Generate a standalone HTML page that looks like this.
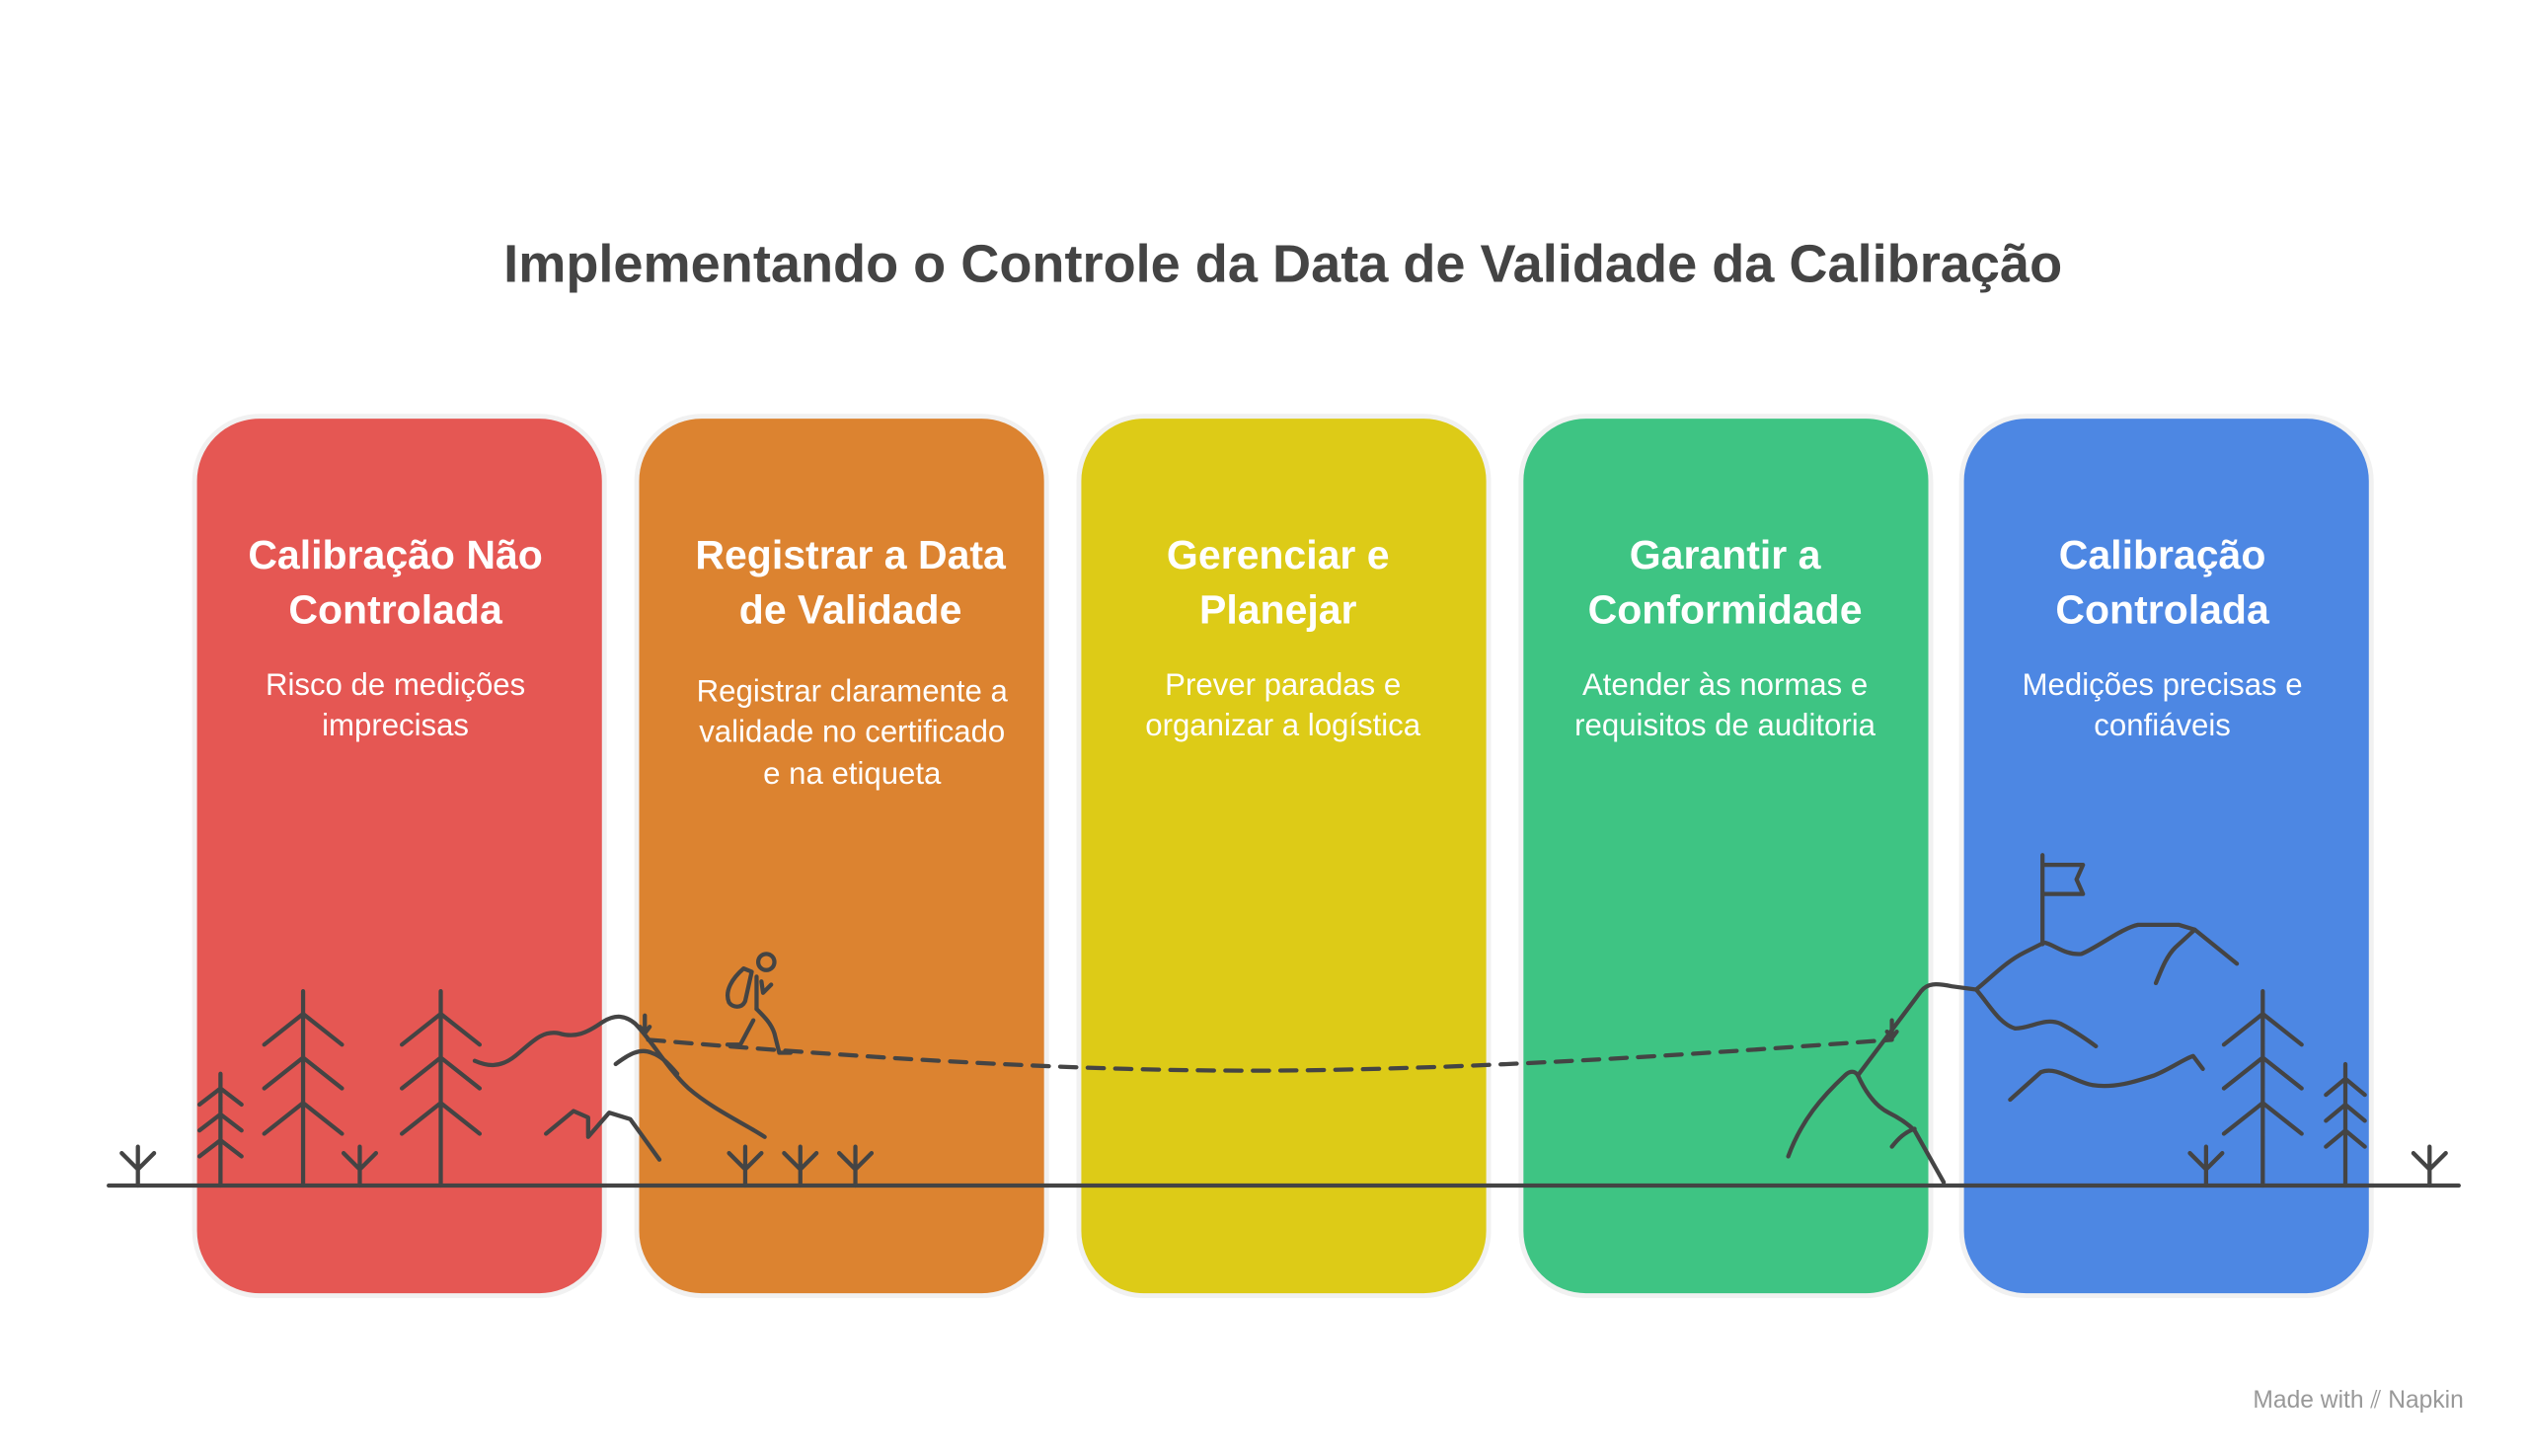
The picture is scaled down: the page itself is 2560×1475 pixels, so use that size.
<!DOCTYPE html>
<html><head><meta charset="utf-8"><style>
html,body{margin:0;padding:0;background:#fff;}
svg{display:block;}
text{font-family:"Liberation Sans",sans-serif;}
</style></head><body>
<svg width="2560" height="1475" viewBox="0 0 1560 899" xmlns="http://www.w3.org/2000/svg">
<rect width="1560" height="899" fill="#fff"/>
<text x="792" y="174" text-anchor="middle" font-size="33" font-weight="bold" fill="#444">Implementando o Controle da Data de Validade da Calibração</text>

<g stroke="#f1f1f1" stroke-width="3">
<rect x="120" y="257" width="253" height="543" rx="40" fill="#E55753"/>
<rect x="393" y="257" width="253" height="543" rx="40" fill="#DC8330"/>
<rect x="666" y="257" width="253" height="543" rx="40" fill="#DDCB17"/>
<rect x="939" y="257" width="253" height="543" rx="40" fill="#3EC483"/>
<rect x="1211" y="257" width="253" height="543" rx="40" fill="#4D87E3"/>
</g>

<g fill="#fff" text-anchor="middle">
<g font-size="25" font-weight="bold">
<text x="244" y="351">Calibração Não</text><text x="244" y="385">Controlada</text>
<text x="525" y="351">Registrar a Data</text><text x="525" y="385">de Validade</text>
<text x="789" y="351">Gerenciar e</text><text x="789" y="385">Planejar</text>
<text x="1065" y="351">Garantir a</text><text x="1065" y="385">Conformidade</text>
<text x="1335" y="351">Calibração</text><text x="1335" y="385">Controlada</text>
</g>
<g font-size="19">
<text x="244" y="429">Risco de medições</text><text x="244" y="454">imprecisas</text>
<text x="526" y="433">Registrar claramente a</text><text x="526" y="458">validade no certificado</text><text x="526" y="484">e na etiqueta</text>
<text x="792" y="429">Prever paradas e</text><text x="792" y="454">organizar a logística</text>
<text x="1065" y="429">Atender às normas e</text><text x="1065" y="454">requisitos de auditoria</text>
<text x="1335" y="429">Medições precisas e</text><text x="1335" y="454">confiáveis</text>
</g>
</g>

<g fill="none" stroke="#444" stroke-width="2.6" stroke-linecap="round" stroke-linejoin="round">
<line x1="67" y1="732" x2="1518" y2="732"/>
<!-- sprouts -->
<g id="sp"><path d="M85 732V708M75 712L85 722L95 712"/></g>
<path d="M222 732V708M212 712L222 722L232 712"/>
<path d="M460 732V708M450 712L460 722L470 712"/>
<path d="M494 732V708M484 712L494 722L504 712"/>
<path d="M528 732V708M518 712L528 722L538 712"/>
<path d="M1362 732V708M1352 712L1362 722L1372 712"/>
<path d="M1500 732V708M1490 712L1500 722L1510 712"/>
<!-- big trees -->
<path d="M187 732V612M163 645L187 626L211 645M163 672L187 653L211 672M163 700L187 681L211 700"/>
<path d="M272 732V612M248 645L272 626L296 645M248 672L272 653L296 672M248 700L272 681L296 700"/>
<path d="M1397 732V612M1373 645L1397 626L1421 645M1373 672L1397 653L1421 672M1373 700L1397 681L1421 700"/>
<!-- small trees -->
<path d="M136 732V663M123 682L136 672L149 682M123 698L136 688L149 698M123 714L136 704L149 714"/>
<path d="M1448 732V657M1436 676L1448 666L1460 676M1436 692L1448 682L1460 692M1436 708L1448 698L1460 708"/>
<!-- left hills -->
<path d="M293 655C300 658 308 660 318 652C328 644 334 636 345 638C355 641 362 638 372 631C380 626 386 627 392 632C402 642 412 660 425 672C440 685 460 694 472 702"/>
<path d="M380 657C388 651 395 647 402 650C408 652 412 656 418 663"/>
<path d="M337 700L354 686L363 690L363 701"/>
<path d="M363 702L376 687L389 691L407 716"/>
<path d="M398 627V638M395 634L398 638L401 634"/>
<!-- hiker -->
<circle cx="473" cy="594" r="5"/>
<path d="M467 603L467 623"/>
<path d="M459 598C452 604 447 612 450 619C452 622 458 623 460 618L464 600Z"/>
<path d="M470 606L471 613L476 608"/>
<path d="M467 623C472 628 476 632 478 638L481 650L488 650"/>
<path d="M465 630L457 645L449 645"/>
<!-- dashed path -->
<path d="M400 642C520 652 660 662 790 661C920 660 1060 650 1168 642" stroke-dasharray="10 7"/>
<path d="M1168 630V641M1165 637L1168 641L1171 637"/>
<!-- right mountain -->
<path d="M1104 714C1112 692 1125 677 1139 664C1142 661 1145 661 1147 664"/>
<path d="M1147 664L1186 612C1190 607 1195 607 1205 609L1220 611C1230 603 1238 594 1250 588L1262 582C1268 583 1275 590 1285 589C1295 585 1310 573 1320 571L1345 571L1355 574L1381 595"/>
<path d="M1147 664C1152 675 1158 683 1166 687C1172 690 1178 694 1182 698L1200 730"/>
<path d="M1168 708C1172 703 1176 699 1182 697"/>
<path d="M1355 574L1343 585C1337 591 1334 600 1331 607"/>
<path d="M1220 611C1228 620 1234 632 1244 635C1254 635 1262 628 1272 632C1280 636 1290 643 1294 646"/>
<path d="M1241 679L1260 662C1270 658 1280 668 1292 670C1305 672 1318 668 1330 664C1340 660 1348 654 1354 652L1360 660"/>
<path d="M1261 528V583M1261 534H1286L1282 543L1286 552H1261"/>
</g>

<text x="1456" y="869" text-anchor="middle" font-size="15" fill="#999">Made with <tspan fill="#999">⫽ Napkin</tspan></text>
</svg>
</body></html>
